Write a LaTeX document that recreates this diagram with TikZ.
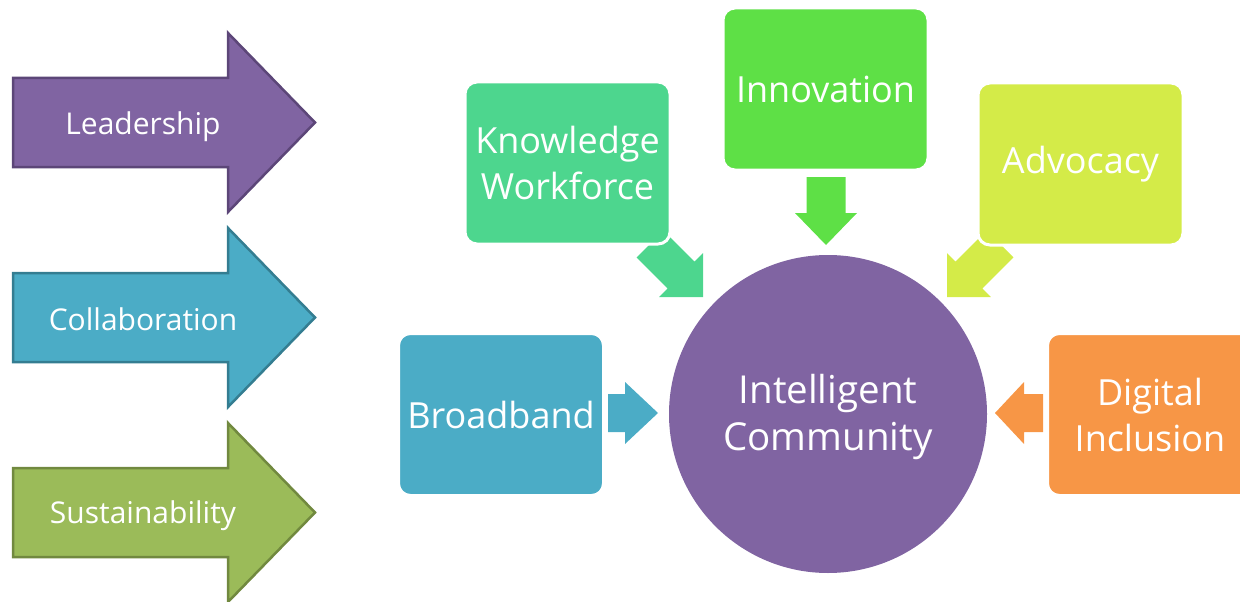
\documentclass[tikz,border=0pt]{standalone}
\usepackage{fontspec}
\setmainfont{Open Sans}
\definecolor{lpurple}{RGB}{128,100,162}
\definecolor{lpurpleb}{RGB}{92,70,120}
\definecolor{lblue}{RGB}{75,172,198}
\definecolor{lblueb}{RGB}{52,125,145}
\definecolor{lgreen}{RGB}{155,187,89}
\definecolor{lgreenb}{RGB}{113,137,63}
\definecolor{kgreen}{RGB}{77,214,142}
\definecolor{igreen}{RGB}{94,224,70}
\definecolor{ayellow}{RGB}{212,235,72}
\definecolor{dorange}{RGB}{247,150,70}
\begin{document}
\begin{tikzpicture}[x=1pt,y=-1pt,
  bigarrow/.style={line width=2.5pt, line join=miter},
  arrowtext/.style={text=white, font=\fontsize{30}{38}\selectfont, inner sep=0},
  boxnode/.style={rounded corners=12pt, draw=white, line width=3pt, text=white,
    align=center, minimum width=205pt, minimum height=162pt, inner sep=0,
    font=\fontsize{36}{46}\selectfont},
  hubnode/.style={circle, fill=lpurple, minimum size=318pt, inner sep=0},
  hubtext/.style={text=white, align=center, inner sep=0,
    font=\fontsize{38.5}{47}\selectfont}]
\useasboundingbox (0,0) rectangle (1240,602);
\clip (0,0) rectangle (1240,602);

% left big arrows
\filldraw[bigarrow, fill=lpurple, draw=lpurpleb]
  (13,78) -- (228,78) -- (228,33) -- (315,122.5) -- (228,212) -- (228,167) -- (13,167) -- cycle;
\node[arrowtext] (lead) at (143,127) {Leadership};
\filldraw[bigarrow, fill=lblue, draw=lblueb]
  (13,273) -- (228,273) -- (228,228) -- (315,317.5) -- (228,407) -- (228,362) -- (13,362) -- cycle;
\node[arrowtext] (coll) at (143,319) {Collaboration};
\filldraw[bigarrow, fill=lgreen, draw=lgreenb]
  (13,468) -- (228,468) -- (228,423) -- (315,512.5) -- (228,602) -- (228,557) -- (13,557) -- cycle;
\node[arrowtext] (sust) at (143,516) {Sustainability};

% small arrows
\fill[kgreen] (703,297) -- (659.2,297) -- (667.7,288.5) -- (636.6,257.4) -- (663.4,230.6) -- (694.5,261.7) -- (703,253.2) -- cycle;
\fill[ayellow] (947,297) -- (990.8,297) -- (982.3,288.5) -- (1013.4,257.4) -- (986.6,230.6) -- (955.5,261.7) -- (947,253.2) -- cycle;
\fill[igreen] (826,245) -- (795,213) -- (806.5,213) -- (806.5,177) -- (845.5,177) -- (845.5,213) -- (857,213) -- cycle;
\fill[lblue] (658,413) -- (625,382) -- (625,394) -- (608,394) -- (608,432) -- (625,432) -- (625,444) -- cycle;
\fill[dorange] (995,413) -- (1024,382) -- (1024,394) -- (1043,394) -- (1043,432) -- (1024,432) -- (1024,444) -- cycle;

% boxes
\node[boxnode, fill=kgreen] (kw) at (567.5,163) {Knowledge\\Workforce};
\node[boxnode, fill=igreen] (inn) at (825.5,89) {Innovation};
\node[boxnode, fill=ayellow] (adv) at (1080.5,164) {Advocacy};
\node[boxnode, fill=lblue] (bb) at (501,414.5) {Broadband};
\node[boxnode, fill=dorange] (di) at (1150,414.5) {Digital\\Inclusion};

% hub
\node[hubnode] (ic) at (828,414) {};
\node[hubtext] (ict) at (828,417) {Intelligent\\Community};
\end{tikzpicture}
\end{document}
